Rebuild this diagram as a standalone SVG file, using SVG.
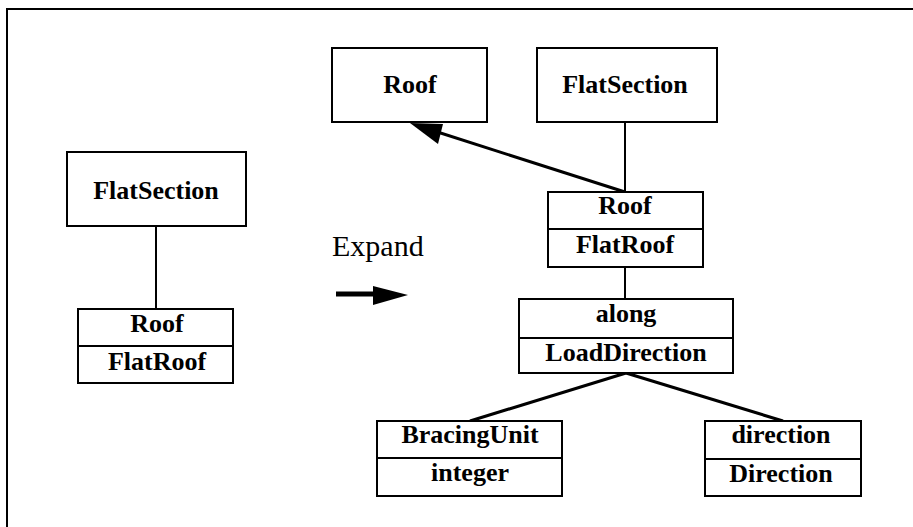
<svg xmlns="http://www.w3.org/2000/svg" width="913" height="527" viewBox="0 0 913 527">
<style>
.box{fill:#fff;stroke:#000;stroke-width:2}
.lbl{font-family:"Liberation Serif","Times New Roman",serif;font-weight:bold;font-size:26px;text-anchor:middle;fill:#000}
.ln{stroke:#000;stroke-width:2;fill:none}
.thick{stroke:#000;stroke-width:3;fill:none}
</style>
<rect width="913" height="527" fill="#fff"/>
<rect x="7" y="9" width="920" height="540" fill="none" stroke="#000" stroke-width="2"/>
<g id="connectors">
<line class="ln" x1="156" y1="226" x2="156" y2="309"/>
<line class="ln" x1="625" y1="122" x2="625" y2="192"/>
<line class="thick" x1="625" y1="192" x2="425" y2="128"/>
<polygon points="410,123 443,124 438,144" fill="#000"/>
<line class="ln" x1="625" y1="267" x2="625" y2="299"/>
<line class="thick" x1="626" y1="373" x2="470" y2="421"/>
<line class="thick" x1="626" y1="373" x2="783" y2="421"/>
</g>
<g id="expand">
<text x="332" y="256" font-family="Liberation Serif, Times New Roman, serif" font-size="30">Expand</text>
<line x1="336" y1="294" x2="375" y2="294" stroke="#000" stroke-width="5"/>
<polygon points="373,286 408,295 373,305" fill="#000"/>
</g>
<g id="left-flatsection">
<rect class="box" x="67" y="152" width="179" height="74"/>
<text class="lbl" x="156" y="199">FlatSection</text>
</g>
<g id="left-roof-flatroof">
<rect class="box" x="78" y="309" width="155" height="74"/>
<line class="ln" x1="78" y1="346" x2="233" y2="346"/>
<text class="lbl" x="157" y="332">Roof</text>
<text class="lbl" x="157" y="370">FlatRoof</text>
</g>
<g id="roof">
<rect class="box" x="332" y="48" width="155" height="74"/>
<text class="lbl" x="410" y="93">Roof</text>
</g>
<g id="flatsection">
<rect class="box" x="537" y="48" width="180" height="74"/>
<text class="lbl" x="625" y="93">FlatSection</text>
</g>
<g id="roof-flatroof">
<rect class="box" x="548" y="192" width="155" height="75"/>
<line class="ln" x1="548" y1="229" x2="703" y2="229"/>
<text class="lbl" x="625" y="214">Roof</text>
<text class="lbl" x="625" y="253">FlatRoof</text>
</g>
<g id="along-loaddirection">
<rect class="box" x="519" y="299" width="214" height="74"/>
<line class="ln" x1="519" y1="338" x2="733" y2="338"/>
<text class="lbl" x="626" y="322">along</text>
<text class="lbl" x="626" y="361">LoadDirection</text>
</g>
<g id="bracingunit-integer">
<rect class="box" x="377" y="421" width="185" height="75"/>
<line class="ln" x1="377" y1="458" x2="562" y2="458"/>
<text class="lbl" x="470" y="443">BracingUnit</text>
<text class="lbl" x="470" y="481">integer</text>
</g>
<g id="direction-direction">
<rect class="box" x="705" y="421" width="156" height="75"/>
<line class="ln" x1="705" y1="459" x2="861" y2="459"/>
<text class="lbl" x="781" y="443">direction</text>
<text class="lbl" x="781" y="482">Direction</text>
</g>
</svg>
